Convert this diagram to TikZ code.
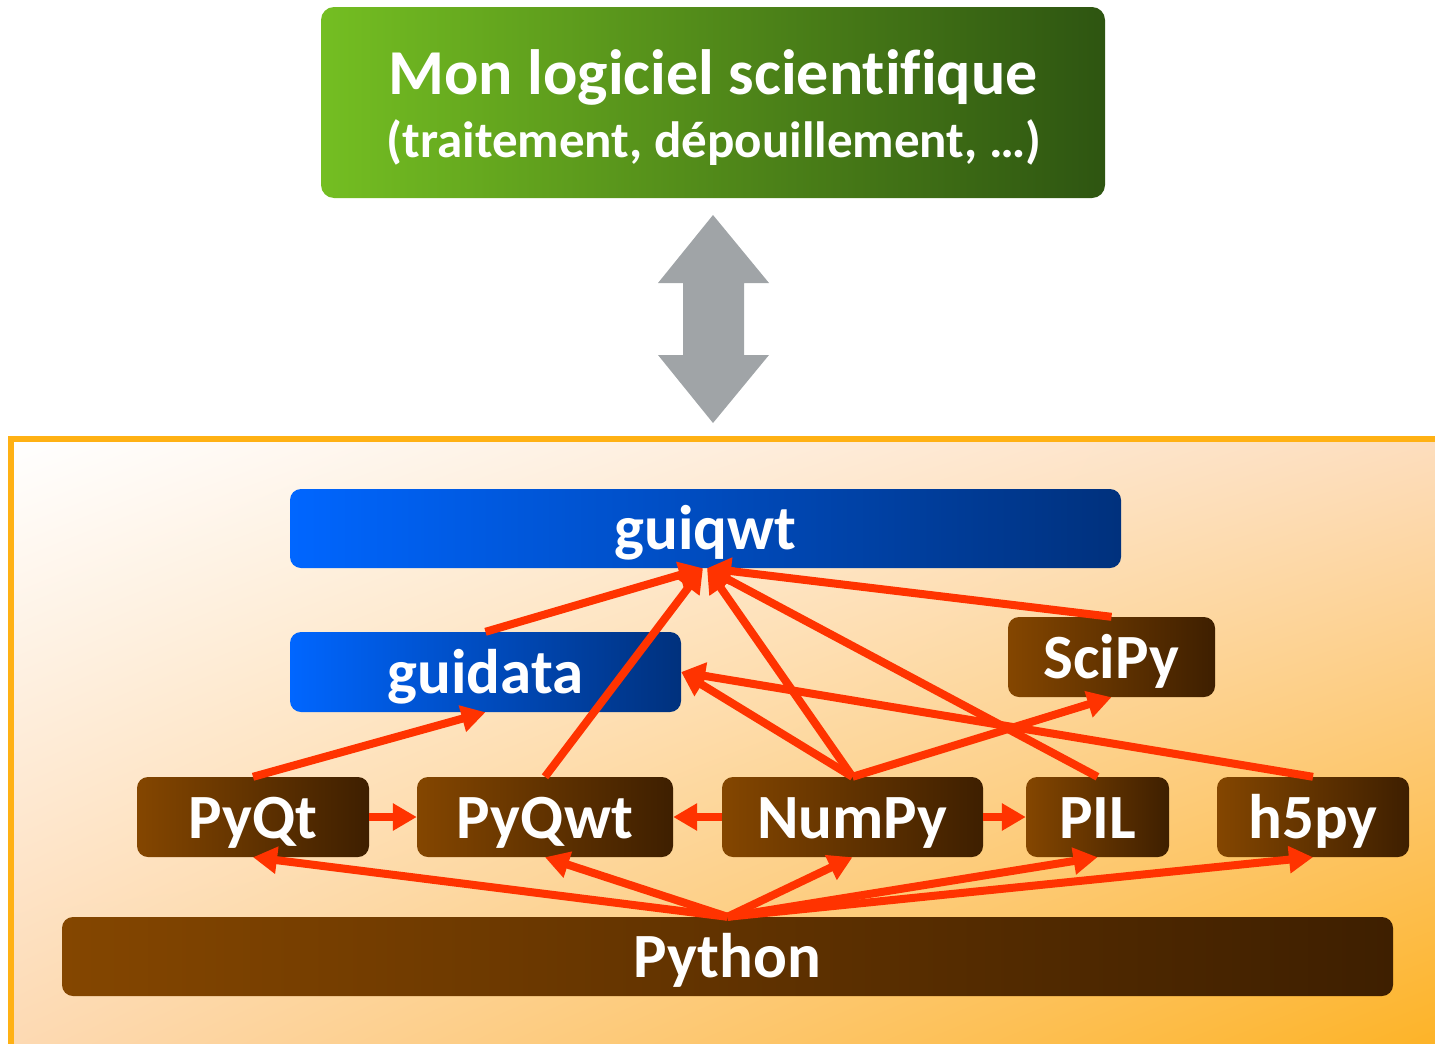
\documentclass[tikz,border=0pt]{standalone}
\usepackage{fontspec}
\setmainfont{Carlito}[Ligatures=CommonOff]
\usetikzlibrary{arrows.meta,shadings}
\definecolor{greenL}{HTML}{74BE22}
\definecolor{greenR}{HTML}{2E5511}
\definecolor{blueL}{HTML}{0066FF}
\definecolor{blueR}{HTML}{00317D}
\definecolor{brownL}{HTML}{844600}
\definecolor{brownR}{HTML}{3E1F00}
\definecolor{arrowred}{HTML}{FF3300}
\definecolor{grayarrow}{HTML}{A0A4A7}
\definecolor{panelborder}{HTML}{FFB114}
\definecolor{panelUL}{HTML}{FFFFFF}
\definecolor{panelUR}{HTML}{FDDDBD}
\definecolor{panelLL}{HTML}{FDD8B0}
\definecolor{panelLR}{HTML}{FDB11F}
\tikzset{
  lbl/.style={text=white, font=\fontsize{63}{63}\selectfont\bfseries,
    text height=42pt, text depth=0pt, inner sep=0pt, rounded corners=11pt},
  bluebox/.style={lbl, left color=blueL, right color=blueR},
  brownbox/.style={lbl, left color=brownL, right color=brownR},
  rarr/.style={draw=arrowred, line width=8pt, -{Triangle[length=24pt,width=26pt]}},
}
\begin{document}
\begin{tikzpicture}[x=1pt,y=-1pt]
\path[use as bounding box] (0,0) rectangle (1435,1044);
\begin{scope}
  \clip (0,0) rectangle (1435,1044);
  \shade[upper left=panelUL, upper right=panelUR, lower left=panelLL, lower right=panelLR]
    (11,439) rectangle (1460,1070);
  \draw[panelborder, line width=6pt] (11,439) rectangle (1460,1070);
\end{scope}

% top box
\node[left color=greenL, right color=greenR, rounded corners=13pt,
      minimum width=784pt, minimum height=191pt, inner sep=0pt] (soft) at (713,102.5) {};
\node[anchor=base, text=white, inner sep=0pt, font=\fontsize{64}{64}\selectfont\bfseries]
  (t1) at (713,94) {Mon logiciel scientifique};
\node[anchor=base, text=white, inner sep=0pt, font=\fontsize{51}{51}\selectfont\bfseries]
  (t2) at (714,157) {(traitement, dépouillement, …)};

% gray double arrow
\fill[grayarrow] (713,215) -- (769,283) -- (744,283) -- (744,355) -- (769,355)
  -- (713,423) -- (658,355) -- (683,355) -- (683,283) -- (658,283) -- cycle;

% boxes
\node[bluebox, minimum width=831pt, minimum height=79pt] (guiqwt) at (705.5,528.5) {guiqwt};
\node[bluebox, minimum width=391pt, minimum height=80pt] (guidata) at (485.5,672) {guidata};
\node[brownbox, minimum width=207pt, minimum height=80pt] (scipy) at (1111.5,657) {SciPy};
\node[brownbox, minimum width=232pt, minimum height=80pt] (pyqt) at (253,817) {PyQt};
\node[brownbox, minimum width=256pt, minimum height=80pt] (pyqwt) at (545,817) {PyQwt};
\node[brownbox, minimum width=261pt, minimum height=80pt] (numpy) at (852.5,817) {NumPy};
\node[brownbox, minimum width=143pt, minimum height=80pt] (pil) at (1097.5,817) {PIL};
\node[brownbox, minimum width=192pt, minimum height=80pt] (h5py) at (1313,817) {h5py};
\node[brownbox, minimum width=1331pt, minimum height=79pt] (python) at (727.5,956.5) {Python};

% arrows
\draw[rarr] (guidata.north) -- ([xshift=-2.5pt]guiqwt.south);
\draw[rarr] (pyqwt.north) -- ([xshift=-2.5pt]guiqwt.south);
\draw[rarr] (numpy.north) -- ([xshift=1.5pt]guiqwt.south);
\draw[rarr] (pil.north) -- ([xshift=1.5pt]guiqwt.south);
\draw[rarr] (scipy.north) -- ([xshift=1.5pt]guiqwt.south);
\draw[rarr] (numpy.north) -- (guidata.east);
\draw[rarr] (h5py.north) -- (guidata.east);
\draw[rarr] (numpy.north) -- (scipy.south);
\draw[rarr] (pyqt.north) -- (guidata.south);
\draw[rarr] (pyqt.east) -- (pyqwt.west);
\draw[rarr] (numpy.west) -- (pyqwt.east);
\draw[rarr] (numpy.east) -- (pil.west);
\draw[rarr] (python.north) -- (pyqt.south);
\draw[rarr] (python.north) -- (pyqwt.south);
\draw[rarr] (python.north) -- (numpy.south);
\draw[rarr] (python.north) -- (pil.south);
\draw[rarr] (python.north) -- (h5py.south);
\end{tikzpicture}
\end{document}
